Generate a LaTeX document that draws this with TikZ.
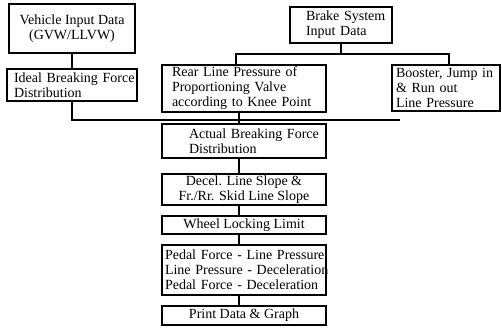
\documentclass[tikz,border=0pt]{standalone}
\usepackage{fontspec}
\setmainfont{Liberation Serif}
\newcommand{\ml}[1]{\mbox{#1}}
\begin{document}
\begin{tikzpicture}[x=1pt,y=-1pt,
  box/.style={draw, line width=1.4pt, inner ysep=0pt, inner xsep=0pt,
    font=\fontsize{14}{15}\selectfont, align=center},
  lbox/.style={box, align=left},
  wire/.style={line width=1.4pt}]
\useasboundingbox (0,0) rectangle (502,327);
% top row
\node[box, minimum width=126, minimum height=49] (veh) at (72,28.5)
  {\ml{Vehicle Input Data}\\\ml{(GVW/LLVW)}};
\node[lbox, minimum width=130, minimum height=32, inner xsep=7, text width=116] (ideal) at (72,85)
  {\ml{Ideal Breaking Force}\\\ml{Distribution}};
\node[lbox, minimum width=102, minimum height=36, inner xsep=16, text width=70] (brake) at (341,25)
  {\ml{Brake System}\\\ml{Input Data}};
\node[lbox, minimum width=164, minimum height=47, inner xsep=10, text width=144] (rear) at (244,88.5)
  {\ml{Rear Line Pressure of}\\\ml{Proportioning Valve}\\\ml{according to Knee Point}};
\node[lbox, minimum width=108, minimum height=46, inner xsep=4, text width=100] (boost) at (446,88)
  {\ml{Booster, Jump in}\\\ml{\& Run out}\\\ml{Line Pressure}};
% chain
\node[lbox, minimum width=164, minimum height=34, inner xsep=27, text width=110] (actual) at (244,141)
  {\ml{Actual Breaking Force}\\\ml{Distribution}};
\node[box, minimum width=164, minimum height=31] (decel) at (244,189.5)
  {\ml{Decel. Line Slope \&}\\\ml{Fr./Rr. Skid Line Slope}};
\node[box, minimum width=164, minimum height=18] (wheel) at (244,225)
  {Wheel Locking Limit};
\node[lbox, minimum width=164, minimum height=50, inner xsep=3, text width=158] (pedal) at (244,270)
  {\ml{Pedal Force - Line Pressure}\\\ml{Line Pressure - Deceleration}\\\ml{Pedal Force - Deceleration}};
\node[box, minimum width=164, minimum height=19] (print) at (244,315.5)
  {Print Data \& Graph};
% connectors
\coordinate (busL) at (72,120);
\coordinate (busR) at (400,120);
\coordinate (brL) at (236,54);
\coordinate (brR) at (449,54);
\coordinate (lx) at (239,0);
\draw[wire] (veh) -- (ideal);
\draw[wire] (ideal) -- (busL) -- (busR);
\draw[wire] (brake.south) -- (brake.south |- brL);
\draw[wire] (brL |- rear.north) -- (brL) -- (brR) -- (brR |- boost.north);
\draw[wire] (rear.south -| lx) -- (actual.north -| lx);
\draw[wire] (actual.south -| lx) -- (decel.north -| lx);
\draw[wire] (decel.south -| lx) -- (wheel.north -| lx);
\draw[wire] (wheel.south -| lx) -- (pedal.north -| lx);
\draw[wire] (pedal.south -| lx) -- (print.north -| lx);
\end{tikzpicture}
\end{document}
